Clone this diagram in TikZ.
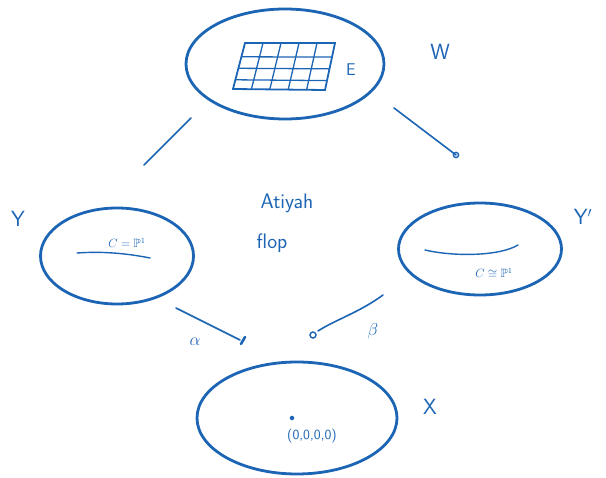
\documentclass[tikz,border=0pt]{standalone}
\usepackage{amssymb}
\usetikzlibrary{shapes.geometric,arrows.meta,calc}
\definecolor{ink}{RGB}{28,100,180}
\begin{document}
\begin{tikzpicture}[x=1pt,y=-1pt,
  space/.style={ellipse,draw=ink,line width=2.8pt},
  map/.style={draw=ink,line width=1.6pt,line cap=round},
  lbl/.style={text=ink,font=\sffamily\fontsize{22}{24}\selectfont},
  small/.style={text=ink,font=\sffamily\fontsize{12}{13}\selectfont},
  gridline/.style={draw=ink,line width=1.3pt}]
\useasboundingbox (0,0) rectangle (606,478);

% the four spaces
\node[space,minimum width=198pt,minimum height=110pt] (W) at (285,64) {};
\node[space,minimum width=153pt,minimum height=96pt] (Y) at (117,256) {};
\node[space,minimum width=163pt,minimum height=92pt] (Yp) at (480,249) {};
\node[space,minimum width=200pt,minimum height=112pt] (X) at (297,418) {};

% names of the spaces
\node[lbl] (lW) at (440,52) {W};
\node[lbl] (lY) at (18,219) {Y};
\node[lbl] (lYp) at (583,217) {Y$'$};
\node[lbl] (lX) at (430,407) {X};

% exceptional divisor E inside W
\draw[ink,line width=1.8pt] (245,43) -- (335,43) -- (325,90) -- (233,89) -- cycle;
\foreach \t in {0.2,0.4,0.6,0.8}
  \draw[gridline] ($(245,43)!\t!(335,43)$) -- ($(233,89)!\t!(325,90)$);
\foreach \t in {0.3,0.55,0.8}
  \draw[gridline] ($(245,43)!\t!(233,89)$) -- ($(335,43)!\t!(325,90)$);
\node[text=ink,font=\sffamily\fontsize{17}{18}\selectfont] (lE) at (351,70) {E};

% curves C inside Y and Y'
\coordinate (cy1) at (77,253);
\coordinate (cy2) at (150,258);
\draw[map,line width=1.4pt] (cy1) .. controls (105,251) and (130,254) .. (cy2);
\node[small] (tC) at (127,243) {$C=\mathbb{P}^1$};
\coordinate (cz1) at (425,250);
\coordinate (cz2) at (518,245);
\draw[map,line width=1.4pt] (cz1) .. controls (455,257) and (500,256) .. (cz2);
\node[small] (tCp) at (494,273) {$C\cong\mathbb{P}^1$};

% the singular point of X
\node[circle,fill=ink,inner sep=1.6pt] (pt) at (292,418) {};
\node[text=ink,font=\sffamily\fontsize{14}{15}\selectfont] (tpt) at (312,436) {(0,0,0,0)};

% label in the middle
\node[text=ink,font=\sffamily\fontsize{21}{22}\selectfont] (at) at (287,203) {Atiyah};
\node[text=ink,font=\sffamily\fontsize{21}{22}\selectfont] (fl) at (272,243) {flop};

% maps
\coordinate (a1) at (191,118);
\coordinate (a2) at (144,165);
\draw[map] (a1) -- (a2);
\coordinate (b1) at (394,108);
\coordinate (b2) at (456,155);
\draw[map] (b1) -- (b2);
\draw[map,line width=1.4pt] (b2) circle (2.6pt);
\coordinate (c1) at (176,308);
\coordinate (c2) at (240,340);
\draw[map] (c1) -- (c2);
\draw[map,line width=2.6pt] (241,344) -- (245,337);
\coordinate (d1) at (383,295);
\coordinate (d2) at (318,331);
\draw[map] (d1) .. controls (360,312) and (335,320) .. (d2);
\draw[map,line width=1.4pt] (313,335) circle (3pt);
\node[text=ink,font=\fontsize{17}{18}\selectfont] (al) at (195,342) {$\alpha$};
\node[text=ink,font=\fontsize{17}{18}\selectfont] (be) at (373,331) {$\beta$};
\end{tikzpicture}
\end{document}
